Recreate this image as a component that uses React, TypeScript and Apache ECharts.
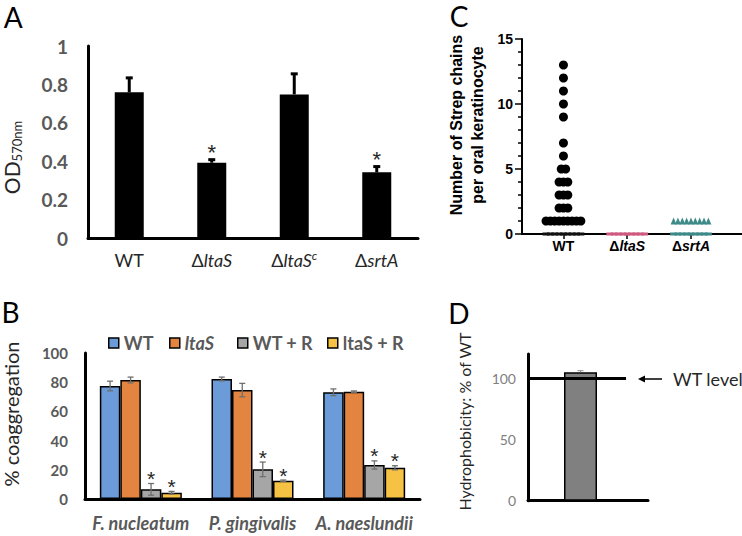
import React, { useEffect, useRef } from 'react';
import * as echarts from 'echarts';

// ---------- Panel A data ----------
const aCategories = ['WT', 'ΔltaS', 'ΔltaSc', 'ΔsrtA'];
const aLabels = ['WT', 'Δ{i|ltaS}', 'Δ{i|ltaS}{sup|c}', 'Δ{i|srtA}'];
const aValues = [0.759, 0.392, 0.748, 0.342];
const aErrors = [0.075, 0.016, 0.107, 0.03];
const aStars = [0, 1, 0, 1];

// ---------- Panel B data ----------
const bGroups = ['F. nucleatum', 'P. gingivalis', 'A. naeslundii'];
const bNames = ['WT', 'ltaS', 'WT + R', 'ltaS + R'];
const bWT = [77.4, 82.2, 73.1];
const bWTErr = [3.3, 1.3, 2.3];
const bLtaS = [81.5, 74.6, 73.5];
const bLtaSErr = [2.0, 4.6, 0.5];
const bWTR = [6.6, 20.3, 23.3];
const bWTRErr = [4.0, 5.0, 2.8];
const bLtaSR = [4.3, 12.5, 21.4];
const bLtaSRErr = [0.9, 0.5, 1.4];
const bWTStars = [0, 0, 0];
const bLtaSStars = [0, 0, 0];
const bWTRStars = [1, 1, 1];
const bLtaSRStars = [1, 1, 1];
const bColors = ['#6b9bd8', '#e38541', '#a6a6a6', '#f5c244'];

// ---------- Panel C data ----------
const cCategories = ['WT', 'ΔltaS', 'ΔsrtA'];
const cLabels = ['WT', 'Δ{i|ltaS}', 'Δ{i|srtA}'];
const cWTValues = [13, 12, 11, 10, 9, 7, 6, 5, 4, 3, 2, 1, 0];
const cWTCounts = [1, 1, 1, 1, 1, 1, 1, 2, 3, 3, 3, 9, 9];
const cLtaSValues = [0];
const cLtaSCounts = [9];
const cSrtAValues = [1, 0];
const cSrtACounts = [9, 9];

// ---------- Panel D data ----------
const dValue = 105.1;
const dError = 1.2;
const dWTLevel = 100;

const LATO = 'Lato, "Open Sans", "DejaVu Sans", sans-serif';
const ARIAL = '"Liberation Sans", Arial, sans-serif';

// dot-plot spreading (layout only): points of equal value placed side by side
const C_STEP = 4.5 / 66;
function swarm(pos: number, values: number[], counts: number[], zero: boolean) {
  const pts: number[][] = [];
  values.forEach((v, i) => {
    if ((v === 0) !== zero) return;
    const n = counts[i];
    for (let k = 0; k < n; k++) pts.push([pos + (k - (n - 1) / 2) * C_STEP, v]);
  });
  return pts;
}

function errSeries(o: any) {
  return {
    type: 'custom',
    coordinateSystem: 'cartesian2d',
    xAxisIndex: o.axis,
    yAxisIndex: o.axis,
    z: 5,
    silent: true,
    encode: { x: 0, y: 1 },
    data: o.values.map((v: number, i: number) => [o.xs ? o.xs[i] : i, v, o.errors[i], o.stars[i]]),
    renderItem: (params: any, api: any) => {
      const xv = api.value(0), v = api.value(1), e = api.value(2), s = api.value(3);
      const mid = api.coord([xv, v]);
      const top = api.coord([xv, v + e]);
      const bot = api.coord([xv, o.both ? v - e : v]);
      const cx = mid[0] + o.offset;
      const half = o.cap / 2;
      const st = { stroke: o.color, lineWidth: o.lineWidth };
      const children: any[] = [
        { type: 'line', shape: { x1: cx, y1: bot[1], x2: cx, y2: top[1] }, style: st },
        { type: 'line', shape: { x1: cx - half, y1: top[1], x2: cx + half, y2: top[1] }, style: st },
      ];
      if (o.both) children.push({ type: 'line', shape: { x1: cx - half, y1: bot[1], x2: cx + half, y2: bot[1] }, style: st });
      if (s) {
        children.push({
          type: 'text',
          style: {
            text: '*', x: cx, y: top[1] - o.starGap, fill: '#262626', font: o.starFont,
            align: 'center', verticalAlign: 'middle', textAlign: 'center', textVerticalAlign: 'middle',
          },
        });
      }
      return { type: 'group', children };
    },
  };
}

function txt(x: number, y: number, text: string, font: string, fill: string, extra: any = {}) {
  const { align = 'center', rotation = 0, rich, lineHeight } = extra;
  return {
    type: 'text', x, y, rotation, silent: true,
    style: {
      text, font, fill, rich, lineHeight,
      align, verticalAlign: 'middle', textAlign: align, textVerticalAlign: 'middle',
    },
  };
}

export default function App() {
  const ref = useRef<HTMLDivElement>(null);
  useEffect(() => {
    const chart = echarts.init(ref.current!, undefined, { renderer: 'svg' });
    const bSeriesVals = [bWT, bLtaS, bWTR, bLtaSR];
    const bSeriesErr = [bWTErr, bLtaSErr, bWTRErr, bLtaSRErr];
    const bSeriesStars = [bWTStars, bLtaSStars, bWTRStars, bLtaSRStars];
    const BW = 20.5;
    const STAR_A = `22px ${ARIAL}`;
    const STAR_B = `21px ${ARIAL}`;

    const option: any = {
      animation: false,
      backgroundColor: '#fff',
      grid: [
        { left: 88, top: 46, width: 330, height: 192 },
        { left: 85, top: 353, width: 335, height: 146 },
        { left: 522, top: 39, width: 3.45 * 66, height: 195 },
        { left: 528, top: 354, width: 120, height: 146.7 },
      ],
      xAxis: [
        {
          gridIndex: 0, type: 'category', data: aCategories,
          axisLine: { onZero: false, lineStyle: { color: '#000', width: 3 } },
          axisTick: { show: false },
          axisLabel: {
            interval: 0, margin: 11, fontFamily: LATO, fontSize: 18, color: '#262626', lineHeight: 22,
            formatter: (_v: string, i: number) => aLabels[i],
            rich: {
              i: { fontFamily: LATO, fontSize: 18, fontStyle: 'italic', color: '#262626', lineHeight: 22 },
              sup: { fontFamily: LATO, fontSize: 12, fontStyle: 'italic', color: '#262626', verticalAlign: 'top', lineHeight: 12 },
            },
          },
        },
        {
          gridIndex: 1, type: 'category', data: bGroups,
          axisLine: { onZero: false, lineStyle: { color: '#000', width: 3 } },
          axisTick: { show: false },
          axisLabel: { interval: 0, margin: 15, fontFamily: LATO, fontSize: 18, fontWeight: 'bold', fontStyle: 'italic', color: '#595959' },
        },
        {
          gridIndex: 2, type: 'value', min: 0.35, max: 3.8,
          axisLine: { onZero: false, lineStyle: { color: '#000', width: 2 } },
          axisTick: { show: true, customValues: [1, 2, 3], length: 5, lineStyle: { color: '#000', width: 1.5 } },
          splitLine: { show: false },
          axisLabel: {
            customValues: [1, 2, 3], margin: 5, fontFamily: ARIAL, fontSize: 14, fontWeight: 'bold', color: '#000',
            formatter: (v: number) => cLabels[Math.round(v) - 1],
            rich: { i: { fontFamily: ARIAL, fontSize: 14, fontWeight: 'bold', fontStyle: 'italic', color: '#000' } },
          },
        },
        {
          gridIndex: 3, type: 'value', min: 0, max: 1,
          axisLine: { onZero: false, lineStyle: { color: '#000', width: 3 } },
          axisTick: { show: false }, axisLabel: { show: false }, splitLine: { show: false },
        },
      ],
      yAxis: [
        {
          gridIndex: 0, type: 'value', min: 0, max: 1, interval: 0.2,
          axisLine: { show: true, onZero: false, lineStyle: { color: '#000', width: 3 } },
          axisTick: { show: false }, splitLine: { show: false },
          axisLabel: { margin: 20, fontFamily: LATO, fontSize: 19, fontWeight: 'bold', color: '#595959' },
        },
        {
          gridIndex: 1, type: 'value', min: 0, max: 100, interval: 20,
          axisLine: { show: true, onZero: false, lineStyle: { color: '#000', width: 3 } },
          axisTick: { show: false }, splitLine: { show: false },
          axisLabel: { margin: 17, fontFamily: LATO, fontSize: 15, fontWeight: 'bold', color: '#595959' },
        },
        {
          gridIndex: 2, type: 'value', min: 0, max: 15, interval: 5,
          axisLine: { show: true, onZero: false, lineStyle: { color: '#000', width: 2 } },
          axisTick: { show: true, length: 7, lineStyle: { color: '#000', width: 1.5 } },
          minorTick: { show: true, splitNumber: 5, length: 4, lineStyle: { color: '#000', width: 1.5 } },
          splitLine: { show: false },
          axisLabel: { margin: 9, fontFamily: ARIAL, fontSize: 14, fontWeight: 'bold', color: '#000' },
        },
        {
          gridIndex: 3, type: 'value', min: 0, max: 120, interval: 50,
          axisLine: { show: true, onZero: false, lineStyle: { color: '#000', width: 3 } },
          axisTick: { show: false }, splitLine: { show: false },
          axisLabel: { margin: 12, fontFamily: LATO, fontSize: 14, color: '#808080', showMaxLabel: false },
        },
      ],
      legend: bNames.map((n, i) => ({
        data: [n], left: [108, 169, 237, 327][i], top: 334, itemWidth: 10, itemHeight: 10, icon: 'rect',
        selectedMode: false, padding: 0,
        itemStyle: { borderColor: '#000', borderWidth: 1.5 },
        textStyle: {
          fontFamily: LATO, fontSize: 18, fontWeight: 'bold', color: '#595959', lineHeight: 18,
          rich: { i: { fontFamily: LATO, fontSize: 18, fontWeight: 'bold', fontStyle: 'italic', color: '#595959', lineHeight: 18 } },
        },
        formatter: (name: string) => (name === 'ltaS' ? '{i|ltaS}' : name),
      })),
      series: [
        // Panel A
        {
          type: 'bar', name: 'OD570', xAxisIndex: 0, yAxisIndex: 0, data: aValues, barWidth: 29,
          itemStyle: { color: '#000' },
        },
        errSeries({
          axis: 0, values: aValues, errors: aErrors, stars: aStars, offset: 0, both: false,
          color: '#000', lineWidth: 3, cap: 7, starFont: STAR_A, starGap: 7,
        }),
        // Panel B
        ...bNames.map((n, k) => ({
          type: 'bar', name: n, xAxisIndex: 1, yAxisIndex: 1, data: bSeriesVals[k], barWidth: BW, barGap: '0%',
          itemStyle: { color: bColors[k], borderColor: '#000', borderWidth: 1.5 },
        })),
        ...bNames.map((n, k) => errSeries({
          axis: 1, values: bSeriesVals[k], errors: bSeriesErr[k], stars: bSeriesStars[k], offset: (k - 1.5) * BW,
          both: true, color: '#6f6f6f', lineWidth: 1.3, cap: 6, starFont: STAR_B, starGap: 5,
        })),
        // Panel C
        {
          type: 'scatter', name: 'C WT', xAxisIndex: 2, yAxisIndex: 2, symbol: 'circle', symbolSize: 9, clip: false,
          itemStyle: { color: '#000', opacity: 1 }, data: swarm(1, cWTValues, cWTCounts, false),
        },
        {
          type: 'scatter', name: 'C WT zero', xAxisIndex: 2, yAxisIndex: 2, symbol: 'rect', symbolSize: [7, 3], clip: false,
          itemStyle: { color: '#111', opacity: 1 }, data: swarm(1, cWTValues, cWTCounts, true),
        },
        {
          type: 'scatter', name: 'C ltaS zero', xAxisIndex: 2, yAxisIndex: 2, symbol: 'rect', symbolSize: [7, 3], clip: false,
          itemStyle: { color: '#cf5a80', opacity: 1 }, data: swarm(2, cLtaSValues, cLtaSCounts, true),
        },
        {
          type: 'scatter', name: 'C srtA', xAxisIndex: 2, yAxisIndex: 2, symbol: 'triangle', symbolSize: [6, 7], clip: false,
          itemStyle: { color: '#3d8a89', opacity: 1 }, data: swarm(3, cSrtAValues, cSrtACounts, false),
        },
        {
          type: 'scatter', name: 'C srtA zero', xAxisIndex: 2, yAxisIndex: 2, symbol: 'rect', symbolSize: [7, 3], clip: false,
          itemStyle: { color: '#3d8a89', opacity: 1 }, data: swarm(3, cSrtAValues, cSrtACounts, true),
        },
        // Panel D
        {
          type: 'bar', name: 'Hydrophobicity', xAxisIndex: 3, yAxisIndex: 3, barWidth: 33,
          data: [[0.4375, dValue]],
          itemStyle: { color: '#808080', borderColor: '#000', borderWidth: 1.5 },
          markLine: {
            silent: true, symbol: 'none', label: { show: false },
            lineStyle: { color: '#000', width: 3, type: 'solid' },
            data: [[{ coord: [0, dWTLevel] }, { coord: [0.817, dWTLevel] }]],
          },
        },
        errSeries({
          axis: 3, xs: [0.4375], values: [dValue], errors: [dError], stars: [0], offset: 0, both: false,
          color: '#8a8a8a', lineWidth: 1, cap: 6, starFont: STAR_B, starGap: 7,
        }),
      ],
      graphic: {
        elements: [
          txt(13.3, 17, 'A', `28px ${LATO}`, '#000', { lineHeight: 26 }),
          txt(10.5, 312, 'B', `28px ${LATO}`, '#000', { lineHeight: 26 }),
          txt(459, 16, 'C', `28px ${LATO}`, '#000', { lineHeight: 26 }),
          txt(459, 312.5, 'D', `28px ${LATO}`, '#000', { lineHeight: 26 }),
          txt(11, 157.5, '{a|OD}{b|570nm}', `21px ${LATO}`, '#262626', {
            rotation: Math.PI / 2,
            rich: {
              a: { fontFamily: LATO, fontSize: 21, lineHeight: 24, verticalAlign: 'middle', fill: '#262626', color: '#262626' },
              b: { fontFamily: LATO, fontSize: 13, lineHeight: 14, verticalAlign: 'bottom', fill: '#262626', color: '#262626' },
            },
          }),
          txt(11, 414, '% coaggregation', `20px ${LATO}`, '#262626', { rotation: Math.PI / 2 }),
          {
            type: 'text', x: 466.5, y: 125, rotation: Math.PI / 2, silent: true,
            style: {
              text: 'Number of Strep chains\nper oral keratinocyte', font: `bold 16px ${ARIAL}`, fill: '#000',
              lineHeight: 21, align: 'center', verticalAlign: 'middle', textAlign: 'center', textVerticalAlign: 'middle',
            },
          },
          txt(464, 421.5, 'Hydrophobicity: % of WT', `16px ${LATO}`, '#262626', { rotation: Math.PI / 2 }),
          { type: 'line', silent: true, shape: { x1: 643, y1: 379, x2: 662, y2: 379 }, style: { stroke: '#000', lineWidth: 1.5 } },
          { type: 'polygon', silent: true, shape: { points: [[638, 379], [645, 375.5], [645, 382.5]] }, style: { fill: '#000' } },
          txt(673, 379, 'WT level', `18px ${LATO}`, '#262626', { align: 'left' }),
        ],
      },
    };
    chart.setOption(option);
    return () => chart.dispose();
  }, []);
  return (
    <div
      ref={ref}
      style={{ position: 'fixed', left: 0, top: 0, width: 742, height: 536, background: '#fff' }}
    />
  );
}
